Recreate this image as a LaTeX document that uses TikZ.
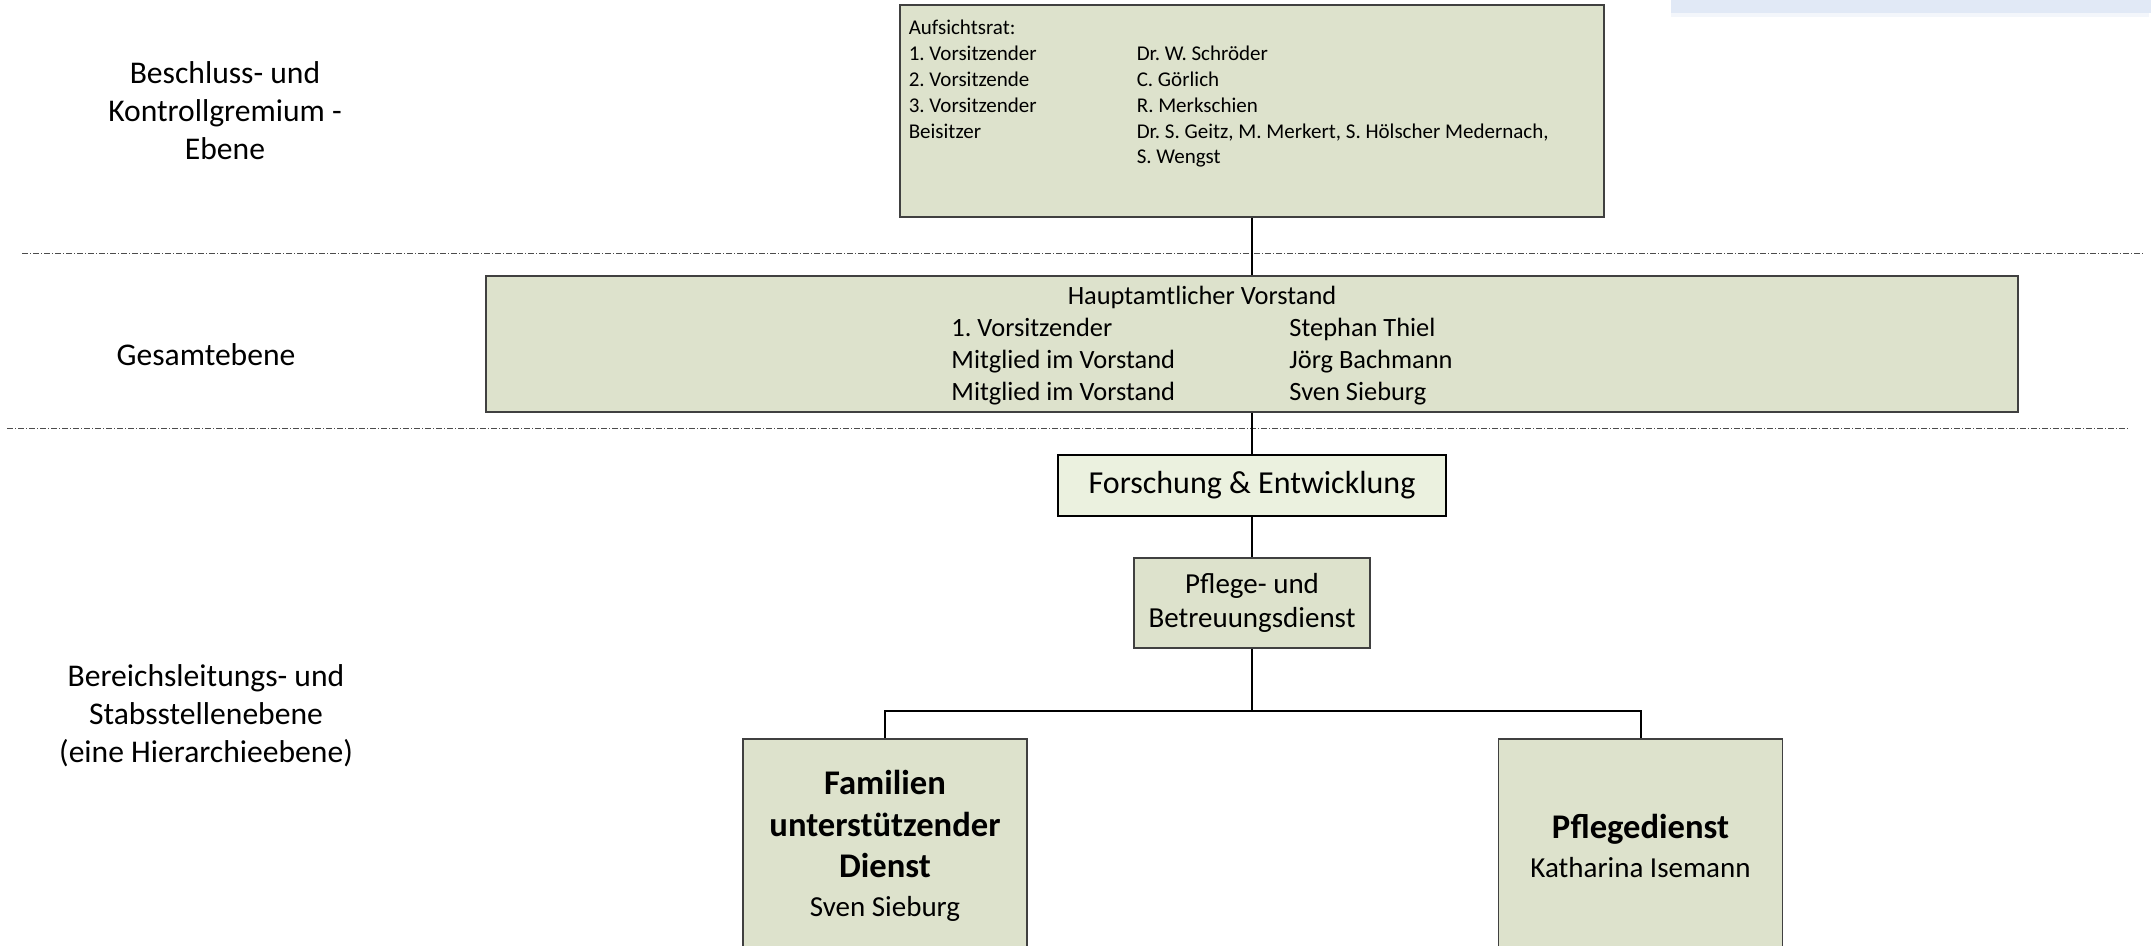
\documentclass[tikz,border=0pt]{standalone}
\usepackage{fontspec}
\setmainfont{Carlito}
\frenchspacing
\usetikzlibrary{positioning,calc}
\definecolor{boxfill}{RGB}{221,226,204}
\definecolor{lightfill}{RGB}{235,241,223}
\definecolor{bandblue}{RGB}{225,233,246}
\tikzset{
    every picture/.style={line width=0.5pt},
    orgbox/.style={rectangle,draw=black!75,fill=boxfill,line width=0.75pt,inner sep=0pt},
    link/.style={draw,line width=1pt},
    divider/.style={draw=black!70,line width=0.5pt,dash pattern=on 3pt off 1pt on 0.5pt off 1pt},
    levellabel/.style={align=center,font=\fontsize{15.8}{19}\selectfont}
}

\begin{document}
\begin{tikzpicture}[x=0.5pt,y=-0.5pt,
        headbox/.style={orgbox,minimum width=142pt,minimum height=107pt,align=center,
            font=\fontsize{17.3}{20.7}\selectfont\bfseries}]
        \useasboundingbox (0,0) rectangle (2151,946);
        \fill[bandblue] (1671,0) rectangle (2151,13);
        \fill[bandblue!40] (1671,13) rectangle (2149,17);

        % Ebenen
        \node[levellabel] (ebene1) at (225,111) {Beschluss- und\\Kontrollgremium -\\Ebene};
        \node[levellabel] (ebene2) at (206,355) {Gesamtebene};
        \node[levellabel] (ebene3) at (206,716) {Bereichsleitungs- und\\Stabsstellenebene\\(eine Hierarchieebene)};
        \draw[divider] (22,254) -- (2143,254);
        \draw[divider] (7,428) -- (2129,428);

        % Aufsichtsrat
        \node[orgbox,minimum width=352pt,minimum height=106pt] (aufsicht) at (1252,111) {};
        \node[anchor=north west,inner sep=0pt,font=\fontsize{10.5}{12.9}\selectfont] (aufsichttext)
            at ($(aufsicht.north west)+(9,12)$) {%
            \begin{tabular}{@{}p{114pt}@{}l@{}}
                Aufsichtsrat: & \\
                1. Vorsitzender & Dr. W. Schröder\\
                2. Vorsitzende & C. Görlich\\
                3. Vorsitzender & R. Merkschien\\
                Beisitzer & Dr. S. Geitz, M. Merkert, S. Hölscher Medernach,\\
                 & S. Wengst
            \end{tabular}};

        % Vorstand
        \node[orgbox,minimum width=766pt,minimum height=68pt] (vorstand) at (1252,344) {};
        \node[align=center,inner sep=0pt,font=\fontsize{13.2}{16.1}\selectfont] (vorstandtext)
            at ($(vorstand.center)+(-50,4)$) {Hauptamtlicher Vorstand\\
            \begin{tabular}[t]{@{}p{169pt}@{}l@{}}
                1. Vorsitzender & Stephan Thiel\\
                Mitglied im Vorstand & Jörg Bachmann\\
                Mitglied im Vorstand & Sven Sieburg
            \end{tabular}};

        % Bereiche
        \node[orgbox,fill=lightfill,draw=black,line width=1.2pt,minimum width=194pt,minimum height=30.5pt,
            font=\fontsize{16}{19}\selectfont] (forschung) at (1252,485.5) {Forschung \& Entwicklung};
        \node[orgbox,minimum width=118pt,minimum height=45pt,align=center,
            font=\fontsize{14.5}{17}\selectfont] (pflege) at (1252,603) {Pflege- und\\Betreuungsdienst};
        \node[headbox] (familien) at (885,846)
            {Familien\\unterstützender\\Dienst\\[-1.2pt]{\mdseries\fontsize{14.5}{17}\selectfont Sven Sieburg}};
        \node[headbox] (pflegedienst) at (1640.5,846)
            {Pflegedienst\\[-1.2pt]{\mdseries\fontsize{14.5}{17}\selectfont Katharina Isemann}};

        % Verbindungen
        \coordinate (branch) at ($(pflege.south)+(0,62)$);
        \draw[link] (aufsicht.south) -- (vorstand.north);
        \draw[link] (vorstand.south) -- (forschung.north);
        \draw[link] (forschung.south) -- (pflege.north);
        \draw[link] (pflege.south) -- (branch) -| (familien.north);
        \draw[link] (branch) -| (pflegedienst.north);
\end{tikzpicture}
\end{document}
